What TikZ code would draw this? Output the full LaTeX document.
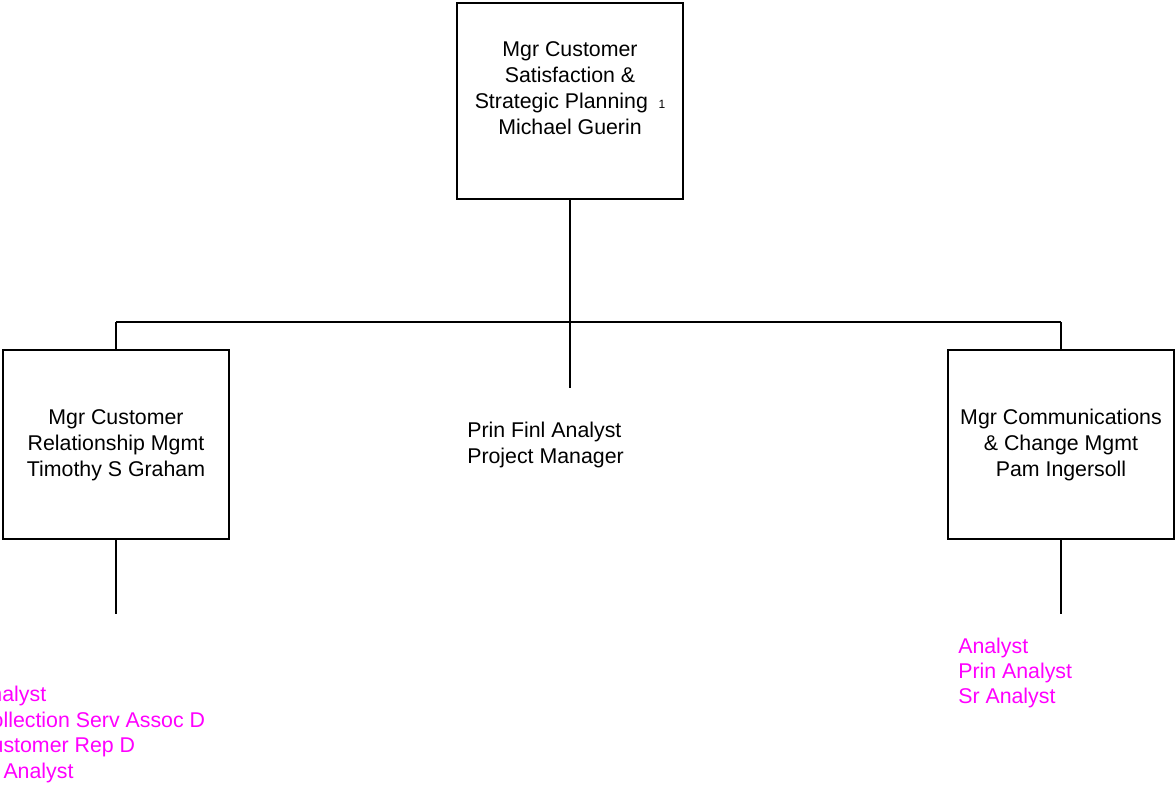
\documentclass[tikz,border=0pt]{standalone}
\usepackage{fontspec}
\setmainfont{Liberation Sans}
\definecolor{mag}{HTML}{FF00FF}
\begin{document}
\begin{tikzpicture}[x=0.75pt,y=-0.75pt,
  box/.style={draw=black,line width=1.5pt,minimum width=169.5pt,inner sep=0pt},
  topbox/.style={box,minimum height=147pt},
  sidebox/.style={box,minimum height=141.75pt},
  lbl/.style={align=center,font=\fontsize{16}{19.5}\selectfont,inner sep=0pt},
  lbll/.style={align=left,font=\fontsize{16}{19.5}\selectfont,inner sep=0pt,anchor=west},
  maglbl/.style={align=left,font=\fontsize{16}{19}\selectfont,inner sep=0pt,anchor=west,text=mag},
  conn/.style={draw=black,line width=1.5pt}]
\useasboundingbox (0,0) rectangle (1176,786);
\clip (0,0) rectangle (1176,786);
\fill[white] (0,0) rectangle (1176,786);
% boxes
\node[topbox] (top) at (570,101) {};
\node[sidebox] (lbox) at (116,444.5) {};
\node[sidebox] (rbox) at (1061,444.5) {};
% labels
\node[lbl] (toptxt) at (570,88) {Mgr Customer\\Satisfaction \&\\Strategic Planning\hspace{8pt}{\fontsize{9}{10}\selectfont 1}\\Michael Guerin};
\node[lbl] (ltxt) at (116,445) {Mgr Customer\\Relationship Mgmt\\Timothy S Graham};
\node[lbl] (rtxt) at (1061,445) {Mgr Communications\\\& Change Mgmt\\Pam Ingersoll};
\node[lbll] (mtxt) at (467,445) {Prin Finl Analyst\\Project Manager};
\node[maglbl] (rmag) at (958,673) {Analyst\\Prin Analyst\\Sr Analyst};
\node[maglbl,font=\fontsize{16}{19.3}\selectfont] (lmag) at (-24,734.5) {Analyst\\Collection Serv Assoc D\\Customer Rep D\\Sr Analyst};
% connectors
\coordinate (busM) at (570,322);
\coordinate (busL) at (116,322);
\coordinate (busR) at (1061,322);
\coordinate (mend) at (570,388);
\coordinate (lend) at (116,614);
\coordinate (rend) at (1061,614);
\draw[conn] (top.south) -- (busM);
\draw[conn] (busL) -- (busR);
\draw[conn] (busL) -- (lbox.north);
\draw[conn] (busR) -- (rbox.north);
\draw[conn] (busM) -- (mend);
\draw[conn] (lbox.south) -- (lend);
\draw[conn] (rbox.south) -- (rend);
\end{tikzpicture}
\end{document}
